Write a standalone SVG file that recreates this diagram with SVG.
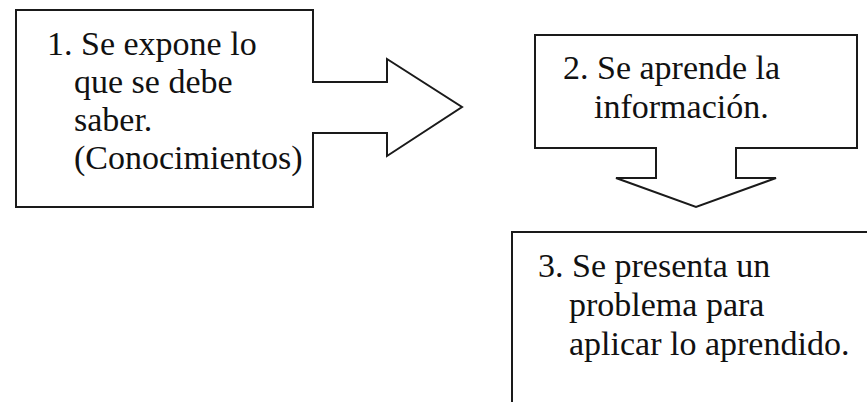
<svg xmlns="http://www.w3.org/2000/svg" width="867" height="402" viewBox="0 0 867 402" font-family="Liberation Serif, Times New Roman, serif">
  <style>
    .shape { fill: #ffffff; stroke: #1a1a1a; stroke-width: 2; stroke-linejoin: miter; }
    .lbl { font-size: 34px; fill: #111111; }
  </style>
  <rect x="0" y="0" width="867" height="402" fill="#ffffff"/>
  <g id="node1">
    <path class="shape" d="M16,10 H313 V82 H387 V59 L462,107 L387,156 V133 H313 V207 H16 Z"/>
    <text class="lbl" font-family="Liberation Serif, serif" x="47" y="55">1. Se expone lo</text>
    <text class="lbl" font-family="Liberation Serif, serif" x="74" y="93">que se debe</text>
    <text class="lbl" font-family="Liberation Serif, serif" x="74" y="131">saber.</text>
    <text class="lbl" font-family="Liberation Serif, serif" x="74" y="169">(Conocimientos)</text>
  </g>
  <g id="node2">
    <path class="shape" d="M535,35 H857 V148 H736 V178 H776 L696,207 L616,178 H656 V148 H535 Z"/>
    <text class="lbl" font-family="Liberation Serif, serif" x="563" y="79">2. Se aprende la</text>
    <text class="lbl" font-family="Liberation Serif, serif" x="594" y="118">información.</text>
  </g>
  <g id="node3">
    <rect class="shape" x="512" y="232" width="370" height="190"/>
    <text class="lbl" font-family="Liberation Serif, serif" x="538" y="277">3. Se presenta un</text>
    <text class="lbl" font-family="Liberation Serif, serif" x="569" y="316">problema para</text>
    <text class="lbl" font-family="Liberation Serif, serif" x="569" y="355">aplicar lo aprendido.</text>
  </g>
  <g id="connectors"/>
</svg>
